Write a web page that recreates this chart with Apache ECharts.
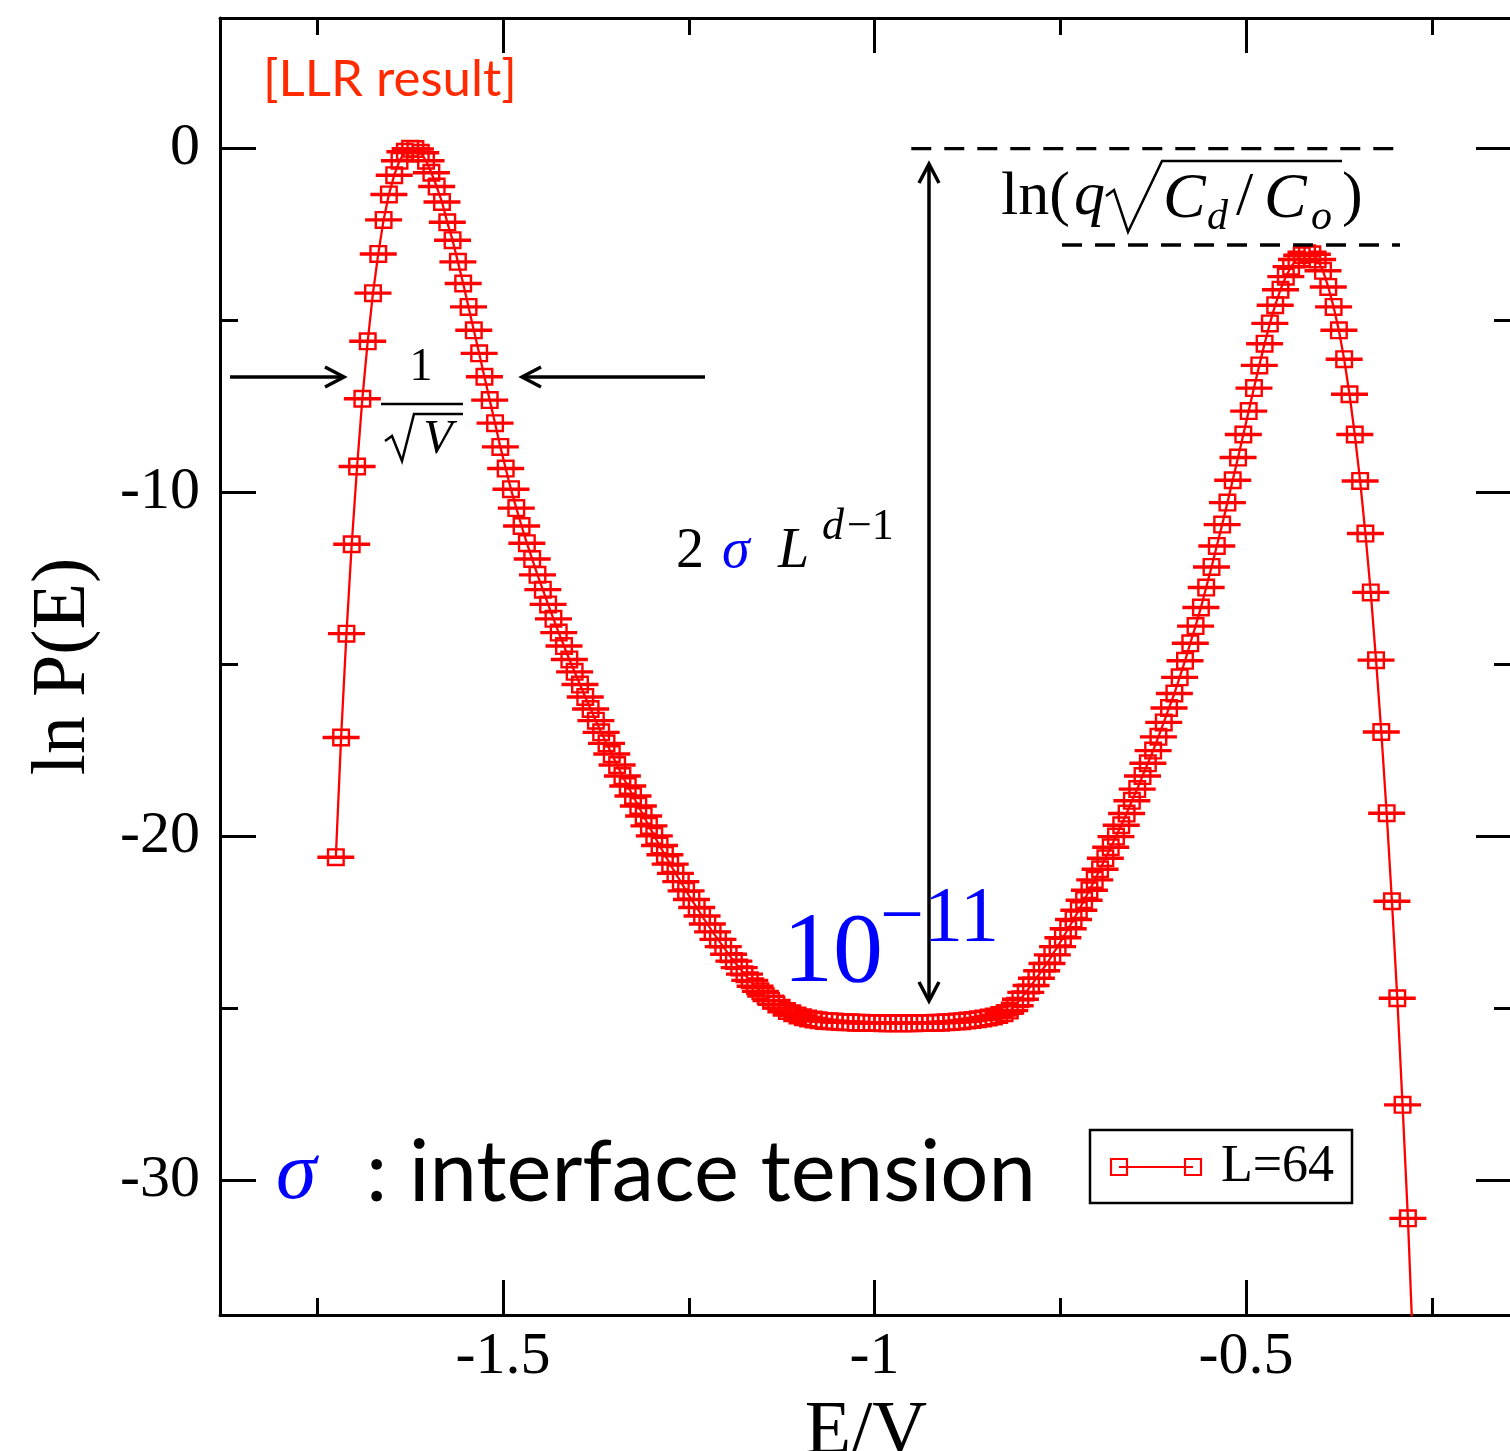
<!DOCTYPE html>
<html><head><meta charset="utf-8">
<script src="https://cdn.jsdelivr.net/npm/echarts@6/dist/echarts.min.js"></script>
<style>html,body{margin:0;padding:0;background:#fff;overflow:hidden}#c{width:1510px;height:1451px}</style>
</head><body><div id="c"></div><script>
// ---- data ----
const E_OVER_V = [
 -1.7250,-1.7179,-1.7107,-1.7036,-1.6964,-1.6893,-1.6821,
 -1.6750,-1.6679,-1.6607,-1.6536,-1.6464,-1.6393,-1.6321,
 -1.6250,-1.6179,-1.6107,-1.6036,-1.5964,-1.5893,-1.5821,
 -1.5750,-1.5679,-1.5607,-1.5536,-1.5464,-1.5393,-1.5321,
 -1.5250,-1.5179,-1.5107,-1.5036,-1.4964,-1.4893,-1.4821,
 -1.4750,-1.4679,-1.4607,-1.4536,-1.4464,-1.4393,-1.4321,
 -1.4250,-1.4179,-1.4107,-1.4036,-1.3964,-1.3893,-1.3821,
 -1.3750,-1.3679,-1.3607,-1.3536,-1.3464,-1.3393,-1.3321,
 -1.3250,-1.3179,-1.3107,-1.3036,-1.2964,-1.2893,-1.2821,
 -1.2750,-1.2679,-1.2607,-1.2536,-1.2464,-1.2393,-1.2321,
 -1.2250,-1.2179,-1.2107,-1.2036,-1.1964,-1.1893,-1.1821,
 -1.1750,-1.1679,-1.1607,-1.1536,-1.1464,-1.1393,-1.1321,
 -1.1250,-1.1179,-1.1107,-1.1036,-1.0964,-1.0893,-1.0821,
 -1.0750,-1.0679,-1.0607,-1.0536,-1.0464,-1.0393,-1.0321,
 -1.0250,-1.0179,-1.0107,-1.0036,-0.9964,-0.9893,-0.9821,
 -0.9750,-0.9679,-0.9607,-0.9536,-0.9464,-0.9393,-0.9321,
 -0.9250,-0.9179,-0.9107,-0.9036,-0.8964,-0.8893,-0.8821,
 -0.8750,-0.8679,-0.8607,-0.8536,-0.8464,-0.8393,-0.8321,
 -0.8250,-0.8179,-0.8107,-0.8036,-0.7964,-0.7893,-0.7821,
 -0.7750,-0.7679,-0.7607,-0.7536,-0.7464,-0.7393,-0.7321,
 -0.7250,-0.7179,-0.7107,-0.7036,-0.6964,-0.6893,-0.6821,
 -0.6750,-0.6679,-0.6607,-0.6536,-0.6464,-0.6393,-0.6321,
 -0.6250,-0.6179,-0.6107,-0.6036,-0.5964,-0.5893,-0.5821,
 -0.5750,-0.5679,-0.5607,-0.5536,-0.5464,-0.5393,-0.5321,
 -0.5250,-0.5179,-0.5107,-0.5036,-0.4964,-0.4893,-0.4821,
 -0.4750,-0.4679,-0.4607,-0.4536,-0.4464,-0.4393,-0.4321,
 -0.4250,-0.4179,-0.4107,-0.4036,-0.3964,-0.3893,-0.3821,
 -0.3750,-0.3679,-0.3607,-0.3536,-0.3464,-0.3393,-0.3321,
 -0.3250,-0.3179,-0.3107,-0.3036,-0.2964,-0.2893,-0.2821,
 -0.2750
];
const LN_P = [
 -20.6,-17.12,-14.1,-11.5,-9.24,-7.27,-5.6,
 -4.2,-3.06,-2.07,-1.33,-0.77,-0.35,-0.09,
 0.0,-0.01,-0.12,-0.35,-0.7,-1.1,-1.55,
 -2.14,-2.66,-3.29,-3.92,-4.6,-5.28,-5.95,
 -6.63,-7.31,-7.98,-8.67,-9.3,-9.9,-10.45,
 -10.97,-11.47,-11.93,-12.39,-12.82,-13.25,-13.67,
 -14.07,-14.46,-14.85,-15.21,-15.58,-15.94,-16.29,
 -16.63,-16.97,-17.29,-17.6,-17.92,-18.24,-18.53,
 -18.82,-19.11,-19.4,-19.69,-19.98,-20.26,-20.53,
 -20.8,-21.07,-21.31,-21.58,-21.83,-22.06,-22.31,
 -22.54,-22.77,-22.99,-23.2,-23.42,-23.62,-23.81,
 -24.0,-24.18,-24.35,-24.5,-24.64,-24.77,-24.88,
 -24.98,-25.07,-25.14,-25.2,-25.25,-25.29,-25.32,
 -25.34,-25.36,-25.37,-25.38,-25.39,-25.4,-25.4,
 -25.41,-25.41,-25.42,-25.42,-25.42,-25.43,-25.43,
 -25.43,-25.43,-25.43,-25.43,-25.43,-25.42,-25.42,
 -25.42,-25.41,-25.41,-25.4,-25.39,-25.38,-25.37,
 -25.35,-25.33,-25.31,-25.29,-25.26,-25.23,-25.19,
 -25.14,-25.06,-24.92,-24.73,-24.53,-24.33,-24.12,
 -23.9,-23.69,-23.44,-23.2,-22.94,-22.68,-22.41,
 -22.14,-21.85,-21.56,-21.26,-20.95,-20.63,-20.31,
 -20.0,-19.67,-19.33,-18.96,-18.62,-18.24,-17.87,
 -17.5,-17.1,-16.68,-16.26,-15.84,-15.37,-14.89,
 -14.38,-13.88,-13.34,-12.76,-12.16,-11.55,-10.93,
 -10.29,-9.64,-8.98,-8.31,-7.63,-6.96,-6.3,
 -5.67,-5.08,-4.55,-4.1,-3.72,-3.43,-3.22,
 -3.1,-3.04,-3.07,-3.22,-3.55,-4.02,-4.6,
 -5.28,-6.12,-7.14,-8.31,-9.66,-11.19,-12.9,
 -14.87,-16.96,-19.32,-21.88,-24.7,-27.8,-31.1,
 -35.0
];
const SERIES_NAME = 'L=64';
const X_MAJOR_TICKS = [-1.5, -1, -0.5];
const X_MINOR_TICKS = [-1.75, -1.25, -0.75, -0.25];
const Y_MAJOR_TICKS = [-30, -20, -10, 0];
const Y_MINOR_TICKS = [-25, -15, -5];
const X_RANGE = [-1.8809, -0.1420];
const Y_RANGE = [-33.91, 3.80];
const SURFACE_LEVEL = -2.8;   // ln(q sqrt(Cd/Co)) dashed level
const PEAK_LEVEL = 0;

// ---- chart ----
const chart = echarts.init(document.getElementById('c'), null, {renderer: 'canvas'});
const SERIF = '"Liberation Serif", "DejaVu Serif", serif';
const SANS = 'Lato, "Open Sans", sans-serif';
const RED = '#ff0000';

function xAxisDef(position, ticks, len, labels, line) {
  return {
    type: 'value', position: position, min: X_RANGE[0], max: X_RANGE[1],
    axisLine: {show: line, onZero: false, lineStyle: {color: '#000', width: 3}},
    axisTick: {show: true, inside: true, length: len, customValues: ticks, lineStyle: {color: '#000', width: 3}},
    axisLabel: {show: labels, customValues: ticks, margin: 12, color: '#000', fontSize: 60, fontFamily: SERIF},
    splitLine: {show: false}
  };
}
function yAxisDef(position, ticks, len, labels, line) {
  return {
    type: 'value', position: position, min: Y_RANGE[0], max: Y_RANGE[1],
    axisLine: {show: line, onZero: false, lineStyle: {color: '#000', width: 3}},
    axisTick: {show: true, inside: true, length: len, customValues: ticks, lineStyle: {color: '#000', width: 3}},
    axisLabel: {show: labels, customValues: ticks, margin: 20, color: '#000', fontSize: 60, fontFamily: SERIF},
    splitLine: {show: false}
  };
}

const xMain = xAxisDef('bottom', X_MAJOR_TICKS, 35, true, true);
xMain.name = 'E/V';
xMain.nameLocation = 'middle';
xMain.nameGap = 80;
xMain.nameTextStyle = {fontSize: 76, fontFamily: SERIF, color: '#000'};
const yMain = yAxisDef('left', Y_MAJOR_TICKS, 36, true, true);
yMain.name = 'ln P(E)';
yMain.nameLocation = 'middle';
yMain.nameGap = 118;
yMain.nameTextStyle = {fontSize: 76, fontFamily: SERIF, color: '#000'};

const points = E_OVER_V.map((e, i) => [e, LN_P[i]]);

function txt(x, y, text, font, color, extra) {
  return Object.assign({type: 'text', x: x, y: y, z: 50,
    style: Object.assign({text: text, font: font, fill: color || '#000', align: 'left', verticalAlign: 'middle'}, extra || {})});
}
function seg(x1, y1, x2, y2, w, extra) {
  return Object.assign({type: 'line', z: 50, shape: {x1: x1, y1: y1, x2: x2, y2: y2},
    style: {stroke: '#000', lineWidth: w || 3}}, extra || {});
}
function poly(pts, w) {
  return {type: 'polyline', z: 50, shape: {points: pts}, style: {stroke: '#000', lineWidth: w || 2.5, fill: null}};
}

const graphics = [
  txt(263, 80, '[LLR result]', '51px ' + SANS, '#ff2a00'),
  // 1/sqrt(V) arrows
  seg(230, 377, 343, 377, 3.5), poly([[325, 367], [344, 377], [325, 387]], 3.5),
  seg(522, 377, 705, 377, 3.5), poly([[541, 367], [522, 377], [541, 387]], 3.5),
  txt(421, 368, '1', '46px ' + SERIF, '#000', {align: 'center'}),
  seg(381, 404, 463, 404, 2.5),
  poly([[385, 441], [392, 436], [402, 461], [414, 414], [463, 414]], 2.5),
  txt(438, 440, 'V', 'italic 48px ' + SERIF, '#000', {align: 'center'}),
  // vertical double arrow
  seg(929, 165, 929, 1000, 3.5),
  poly([[919, 183], [929, 164], [939, 183]], 3.5),
  poly([[919, 982], [929, 1001], [939, 982]], 3.5),
  // 2 sigma L^{d-1}
  txt(676, 552, '2', '56px ' + SERIF),
  txt(722, 552, 'σ', 'italic 56px ' + SERIF, '#0000ff'),
  txt(778, 552, 'L', 'italic 56px ' + SERIF),
  txt(822, 527, 'd', 'italic 44px ' + SERIF),
  txt(847, 527, '−1', '44px ' + SERIF),
  // 10^{-11}
  txt(783, 955, '10', '100px ' + SERIF, '#0000ff'),
  txt(880, 920, '−11', '78px ' + SERIF, '#0000ff'),
  // ln(q sqrt(Cd/Co))
  txt(1001, 198, 'ln(', '62px ' + SERIF),
  txt(1074, 198, 'q', 'italic 62px ' + SERIF),
  poly([[1106, 196], [1114, 190], [1128, 232], [1162, 161], [1342, 161]], 2.5),
  txt(1163, 200, 'C', 'italic 64px ' + SERIF),
  txt(1207, 218, 'd', 'italic 42px ' + SERIF),
  txt(1236, 198, '/', '62px ' + SERIF),
  txt(1264, 200, 'C', 'italic 64px ' + SERIF),
  txt(1311, 218, 'o', 'italic 42px ' + SERIF),
  txt(1342, 198, ')', '62px ' + SERIF),
  // sigma : interface tension
  txt(276, 1176, 'σ', 'italic 82px ' + SERIF, '#0000ff'),
  txt(366, 1174, ': interface tension', '85px ' + SANS),
  // legend
  {type: 'rect', z: 40, shape: {x: 1090, y: 1130, width: 262, height: 73}, style: {stroke: '#000', lineWidth: 2.5, fill: '#fff'}},
  seg(1119, 1167, 1193, 1167, 2, {style: {stroke: RED, lineWidth: 2}}),
  {type: 'rect', z: 51, shape: {x: 1111, y: 1159, width: 16, height: 16}, style: {stroke: RED, lineWidth: 2.2, fill: null}},
  {type: 'rect', z: 51, shape: {x: 1185, y: 1159, width: 16, height: 16}, style: {stroke: RED, lineWidth: 2.2, fill: null}},
  txt(1221, 1167, SERIES_NAME, '52px ' + SERIF)
];

const option = {
  animation: false,
  backgroundColor: '#fff',
  grid: {left: 220, top: 18, width: 1292, height: 1297, containLabel: false, outerBoundsMode: 'none'},
  xAxis: [
    xMain,
    xAxisDef('bottom', X_MINOR_TICKS, 17, false, false),
    xAxisDef('top', X_MAJOR_TICKS, 35, false, true),
    xAxisDef('top', X_MINOR_TICKS, 17, false, false)
  ],
  yAxis: [
    yMain,
    yAxisDef('left', Y_MINOR_TICKS, 18, false, false),
    yAxisDef('right', Y_MAJOR_TICKS, 36, false, true),
    yAxisDef('right', Y_MINOR_TICKS, 18, false, false)
  ],
  series: [
    {
      name: SERIES_NAME, type: 'line', xAxisIndex: 0, yAxisIndex: 0,
      data: points, showSymbol: false, symbol: 'none', clip: true,
      lineStyle: {color: RED, width: 2.3}, z: 5
    },
    {
      name: SERIES_NAME + ' markers', type: 'custom', xAxisIndex: 0, yAxisIndex: 0,
      data: points, clip: true, z: 6,
      encode: {x: 0, y: 1},
      renderItem: function (params, api) {
        const p = api.coord([api.value(0), api.value(1)]);
        return {type: 'group', children: [
          {type: 'line', shape: {x1: p[0] - 18.5, y1: p[1], x2: p[0] + 18.5, y2: p[1]},
           style: {stroke: RED, lineWidth: 3.4}},
          {type: 'rect', shape: {x: p[0] - 7.8, y: p[1] - 7.8, width: 15.6, height: 15.6},
           style: {stroke: RED, lineWidth: 2.4, fill: null}}
        ]};
      }
    }
  ],
  graphic: graphics
};
chart.setOption(option);

// dashed reference levels placed through the chart's own scale
const pTop = chart.convertToPixel({xAxisIndex: 0, yAxisIndex: 0}, [-0.9505, PEAK_LEVEL]);
const pSurf = chart.convertToPixel({xAxisIndex: 0, yAxisIndex: 0}, [-0.7476, SURFACE_LEVEL]);
chart.setOption({graphic: graphics.concat([
  {type: 'line', z: 50, shape: {x1: pTop[0], y1: pTop[1], x2: 1405, y2: pTop[1]},
   style: {stroke: '#000', lineWidth: 3.3, lineDash: [20, 13]}},
  {type: 'line', z: 50, shape: {x1: pSurf[0], y1: pSurf[1], x2: 1400, y2: pSurf[1]},
   style: {stroke: '#000', lineWidth: 3.3, lineDash: [20, 13]}}
])});
</script></body></html>
